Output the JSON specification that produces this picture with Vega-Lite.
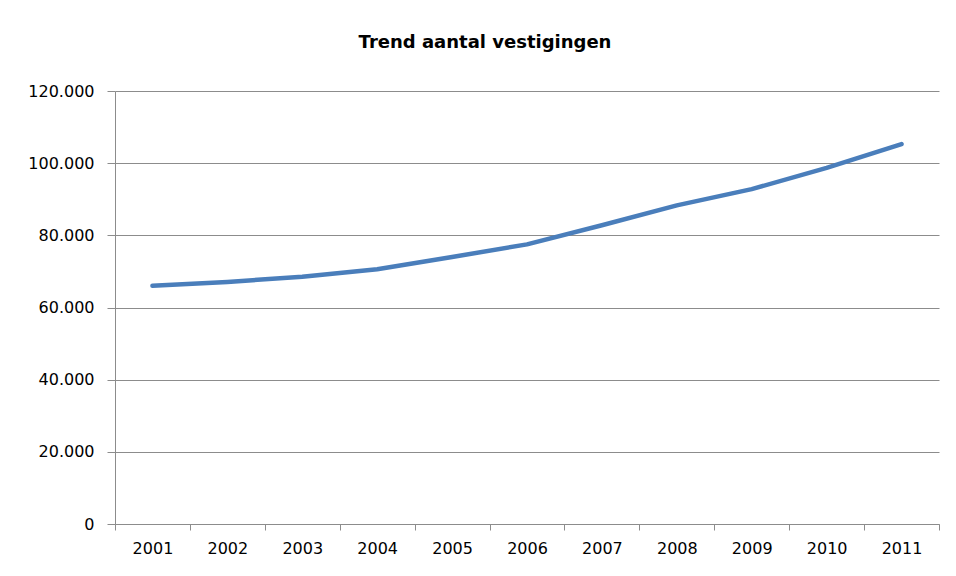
{
  "$schema": "https://vega.github.io/schema/vega-lite/v6.json",
  "autosize": "none",
  "width": 824,
  "height": 433,
  "padding": {"left": 115, "top": 91, "right": 17, "bottom": 52},
  "background": "white",
  "config": {
    "view": {"stroke": null},
    "locale": {"number": {"decimal": ",", "thousands": ".", "grouping": [3], "currency": ["€", ""]}},
    "axis": {
      "labelFont": "DejaVu Sans",
      "labelFontSize": 16,
      "labelColor": "#000000",
      "domainColor": "#8c8c8c",
      "tickColor": "#8c8c8c",
      "gridColor": "#8c8c8c",
      "domainWidth": 1,
      "tickWidth": 1,
      "gridWidth": 1
    }
  },
  "title": {
    "text": "Trend aantal vestigingen",
    "font": "DejaVu Sans",
    "fontSize": 18,
    "fontWeight": "bold",
    "color": "#000000",
    "anchor": "middle",
    "frame": "group",
    "baseline": "alphabetic",
    "dx": -42,
    "offset": 17
  },
  "data": {
    "values": [
      {"jaar": "2001", "aantal": 66000},
      {"jaar": "2002", "aantal": 67100},
      {"jaar": "2003", "aantal": 68500},
      {"jaar": "2004", "aantal": 70600},
      {"jaar": "2005", "aantal": 74000},
      {"jaar": "2006", "aantal": 77500},
      {"jaar": "2007", "aantal": 82800},
      {"jaar": "2008", "aantal": 88300},
      {"jaar": "2009", "aantal": 92800},
      {"jaar": "2010", "aantal": 98700},
      {"jaar": "2011", "aantal": 105300}
    ]
  },
  "mark": {"type": "line", "color": "#4a7ebb", "strokeWidth": 4.5, "strokeCap": "round", "strokeJoin": "round"},
  "encoding": {
    "x": {
      "field": "jaar",
      "type": "ordinal",
      "scale": {"paddingInner": 0, "paddingOuter": 0},
      "axis": {
        "title": null,
        "labelAngle": 0,
        "tickBand": "extent",
        "tickSize": 6,
        "labelPadding": 10,
        "grid": false,
        "domain": true
      }
    },
    "y": {
      "field": "aantal",
      "type": "quantitative",
      "scale": {"domain": [0, 120000], "nice": false},
      "axis": {
        "title": null,
        "values": [0, 20000, 40000, 60000, 80000, 100000, 120000],
        "format": ",d",
        "tickSize": 8,
        "labelPadding": 13,
        "grid": true,
        "domain": true
      }
    }
  }
}
